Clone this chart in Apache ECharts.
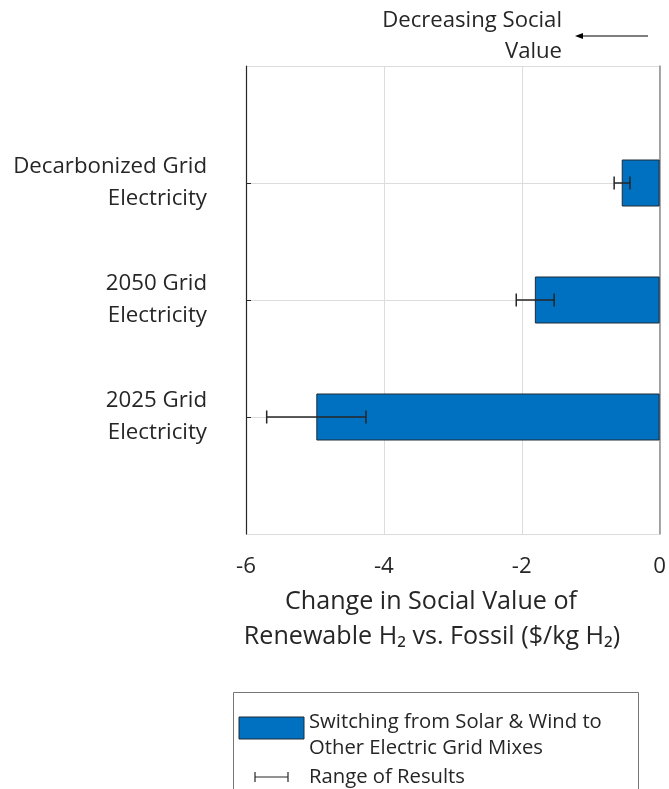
<!DOCTYPE html>
<html>
<head>
<meta charset="utf-8">
<script src="https://cdn.jsdelivr.net/npm/echarts@6/dist/echarts.min.js"></script>
<style>
html,body{margin:0;padding:0;background:#fff;}
#chart{width:669px;height:789px;}
</style>
</head>
<body>
<div id="chart"></div>
<script>
// ---- data ----
const categories = ['2025 Grid\nElectricity', '2050 Grid\nElectricity', 'Decarbonized Grid\nElectricity'];
const changeValues = [-4.98, -1.81, -0.55];
const rangeLow = [-5.70, -2.08, -0.66];
const rangeHigh = [-4.26, -1.53, -0.43];
const xTicks = [-6, -4, -2, 0];

// ---- styling helpers ----
const FAMILY = "'Open Sans', sans-serif";
const ctx = document.createElement('canvas').getContext('2d');
function fit(text, width) {
  ctx.font = '100px ' + FAMILY;
  return 100 * width / ctx.measureText(text).width;
}
const TXT = '#262626';
const BLUE = '#0070C0';
const ySize = fit('Decarbonized Grid', 194);
const tickSize = ySize;
const titleSize = fit('Change in Social Value of', 292);
const annotSize = fit('Decreasing Social', 180);
const legSize = fit('Switching from Solar & Wind to', 293);

const axisCats = [''].concat(categories, ['']);
const barData = [null].concat(changeValues, [null]);
const errData = categories.map((c, i) => [i + 1, rangeLow[i], rangeHigh[i]]);

const chart = echarts.init(document.getElementById('chart'), null, {renderer: 'canvas'});
chart.setOption({
  animation: false,
  backgroundColor: '#fff',
  textStyle: {fontFamily: FAMILY},
  grid: {left: 246, right: 6, top: 66, bottom: 255, containLabel: false},
  xAxis: {
    type: 'value', min: xTicks[0], max: xTicks[xTicks.length - 1], interval: 2,
    axisLine: {show: false, onZero: false}, axisTick: {show: false},
    axisLabel: {color: TXT, fontSize: tickSize, fontFamily: FAMILY, margin: 19, lineHeight: tickSize * 1.2},
    splitLine: {show: true, lineStyle: {color: '#dcdcdc', width: 1}}
  },
  yAxis: [{
    type: 'category', data: axisCats, boundaryGap: false, position: 'left',
    axisLine: {show: true, onZero: false, lineStyle: {color: TXT, width: 1.2}},
    axisTick: {show: true, inside: true, length: 5, lineStyle: {color: TXT},
      interval: (i, v) => v !== ''},
    axisLabel: {color: TXT, fontSize: ySize, fontFamily: FAMILY, lineHeight: 32, align: 'right', margin: 39,
      padding: [6, 0, 0, 0], interval: 0},
    splitLine: {show: true, interval: 0, lineStyle: {color: '#dcdcdc', width: 1}}
  }, {
    type: 'category', data: axisCats, boundaryGap: false, position: 'right',
    axisLine: {show: true, onZero: false, lineStyle: {color: '#8c8c8c', width: 1.5}},
    axisTick: {show: false}, axisLabel: {show: false}, splitLine: {show: false}
  }],
  series: [{
    type: 'bar', data: barData, barWidth: 47, yAxisIndex: 0,
    itemStyle: {color: BLUE, borderColor: '#1e2a36', borderWidth: 1}
  }, {
    type: 'custom', data: errData, yAxisIndex: 0, z: 5,
    renderItem: function (params, api) {
      const y = api.value(0);
      const p1 = api.coord([api.value(1), y]);
      const p2 = api.coord([api.value(2), y]);
      const h = 6.5;
      const st = {stroke: TXT, lineWidth: 1.5};
      return {type: 'group', children: [
        {type: 'line', shape: {x1: p1[0], y1: p1[1], x2: p2[0], y2: p2[1]}, style: st},
        {type: 'line', shape: {x1: p1[0], y1: p1[1] - h, x2: p1[0], y2: p1[1] + h}, style: st},
        {type: 'line', shape: {x1: p2[0], y1: p2[1] - h, x2: p2[0], y2: p2[1] + h}, style: st}
      ]};
    }
  }],
  graphic: [
    // x-axis title
    {type: 'text', x: 431, y: 602, style: {text: 'Change in Social Value of', fill: TXT,
      font: titleSize + 'px ' + FAMILY, textAlign: 'center', textVerticalAlign: 'middle'}},
    {type: 'text', x: 432, y: 637, style: {text: 'Renewable H\u2082 vs. Fossil ($/kg H\u2082)', fill: TXT,
      font: titleSize + 'px ' + FAMILY, textAlign: 'center', textVerticalAlign: 'middle'}},
    // annotation
    {type: 'text', x: 562, y: 21, style: {text: 'Decreasing Social', fill: TXT,
      font: annotSize + 'px ' + FAMILY, textAlign: 'right', textVerticalAlign: 'middle'}},
    {type: 'text', x: 562, y: 52, style: {text: 'Value', fill: TXT,
      font: annotSize + 'px ' + FAMILY, textAlign: 'right', textVerticalAlign: 'middle'}},
    {type: 'line', shape: {x1: 581, y1: 36, x2: 648, y2: 36}, style: {stroke: '#000', lineWidth: 1.2}},
    {type: 'polygon', shape: {points: [[575, 36], [583, 33], [583, 39]]}, style: {fill: '#000'}},
    // legend
    {type: 'rect', shape: {x: 233.5, y: 692.5, width: 405, height: 130}, style: {fill: '#fff', stroke: '#777', lineWidth: 1}},
    {type: 'rect', shape: {x: 239, y: 717, width: 65, height: 22}, style: {fill: BLUE, stroke: '#1e2a36', lineWidth: 1}},
    {type: 'text', x: 309, y: 722, style: {text: 'Switching from Solar & Wind to', fill: TXT,
      font: legSize + 'px ' + FAMILY, textAlign: 'left', textVerticalAlign: 'middle'}},
    {type: 'text', x: 309, y: 748, style: {text: 'Other Electric Grid Mixes', fill: TXT,
      font: legSize + 'px ' + FAMILY, textAlign: 'left', textVerticalAlign: 'middle'}},
    {type: 'text', x: 309, y: 777, style: {text: 'Range of Results', fill: TXT,
      font: legSize + 'px ' + FAMILY, textAlign: 'left', textVerticalAlign: 'middle'}},
    {type: 'line', shape: {x1: 255, y1: 777, x2: 288, y2: 777}, style: {stroke: TXT, lineWidth: 1.2}},
    {type: 'line', shape: {x1: 255, y1: 772, x2: 255, y2: 782}, style: {stroke: TXT, lineWidth: 1.2}},
    {type: 'line', shape: {x1: 288, y1: 772, x2: 288, y2: 782}, style: {stroke: TXT, lineWidth: 1.2}}
  ]
});
</script>
</body>
</html>
